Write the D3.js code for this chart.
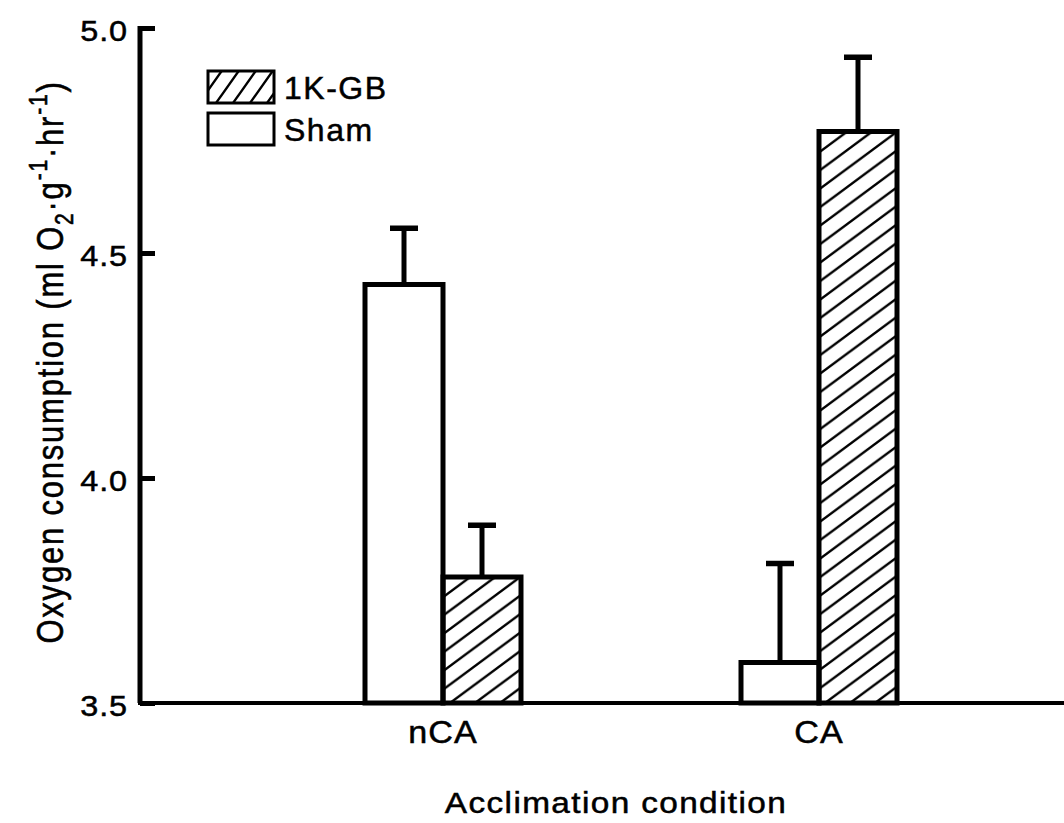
<!DOCTYPE html>
<html>
<head>
<meta charset="utf-8">
<script src="https://cdn.jsdelivr.net/npm/d3@7"></script>
<style>
  html, body { margin: 0; padding: 0; background: #fff; }
  svg { display: block; }
  text { font-family: "Liberation Sans", Arial, Helvetica, sans-serif; fill: #000; stroke: #000; stroke-width: 0.5; }
</style>
</head>
<body>
<svg id="chart" width="1064" height="823"></svg>
<script>
// Acclimation groups and treatment series
const categories = ["nCA", "CA"];
const series = ["Sham", "1K-GB"];
// Mean oxygen consumption (ml O2 · g^-1 · hr^-1)
const shamMeans = [4.43, 3.59];
const gbMeans = [3.78, 4.77];
// Upper end of the error bars (mean + SE)
const shamUpper = [4.555, 3.81];
const gbUpper = [3.895, 4.935];
const yTicks = [3.5, 4.0, 4.5, 5.0];

const svg = d3.select("#chart");
const plot = { left: 140, right: 1064, top: 28, bottom: 703 };

const y = d3.scaleLinear().domain([3.5, 5.0]).range([plot.bottom, plot.top]);
const x = d3.scalePoint().domain(categories).range([443, 819]);
const xs = d3.scaleBand().domain(series).range([-78, 78]).padding(0);

// hatch patterns
const defs = svg.append("defs");
function hatch(id, w, h, sw) {
  const p = defs.append("pattern").attr("id", id)
    .attr("patternUnits", "userSpaceOnUse").attr("width", w).attr("height", h);
  p.append("path")
    .attr("d", `M0,${h} L${w},0 M${-w/4},${h/4} L${w/4},${-h/4} M${3*w/4},${5*h/4} L${5*w/4},${3*h/4}`)
    .attr("stroke", "#000").attr("stroke-width", sw).attr("fill", "none");
}
hatch("hatchBar", 25, 18.5, 2.4);
hatch("hatchLegend", 17, 24, 2.4);

// horizontally widened text, anchored at (px, py)
function wideText(parent, px, py, sx, anchor) {
  return parent.append("text")
    .attr("transform", `translate(${px},${py}) scale(${sx},1)`)
    .attr("text-anchor", anchor || "start");
}

const rows = [];
categories.forEach((c, i) => {
  rows.push({ cat: c, s: "Sham", v: shamMeans[i], hi: shamUpper[i] });
  rows.push({ cat: c, s: "1K-GB", v: gbMeans[i], hi: gbUpper[i] });
});

// error bars (drawn first so the bar outline sits on top)
const eb = svg.append("g");
rows.forEach(d => {
  const cx = x(d.cat) + xs(d.s) + xs.bandwidth() / 2;
  eb.append("line").attr("x1", cx).attr("x2", cx)
    .attr("y1", y(d.v)).attr("y2", y(d.hi))
    .attr("stroke", "#000").attr("stroke-width", 5);
  eb.append("line").attr("x1", cx - 14).attr("x2", cx + 14)
    .attr("y1", y(d.hi)).attr("y2", y(d.hi))
    .attr("stroke", "#000").attr("stroke-width", 5.5);
});

// bars
svg.append("g").selectAll("rect").data(rows).join("rect")
  .attr("x", d => x(d.cat) + xs(d.s))
  .attr("y", d => y(d.v))
  .attr("width", xs.bandwidth())
  .attr("height", d => y(3.5) - y(d.v))
  .attr("fill", d => d.s === "Sham" ? "#fff" : "url(#hatchBar)")
  .attr("stroke", "#000").attr("stroke-width", 5);

// y axis
const yAxis = d3.axisRight(y).tickValues(yTicks).tickSize(15).tickFormat("");
const gy = svg.append("g").attr("transform", `translate(${plot.left},0)`).call(yAxis);
gy.select(".domain").attr("d", `M0,${plot.top - 2}V${plot.bottom}`).attr("stroke-width", 5);
gy.selectAll(".tick line").attr("stroke-width", 5);
const gyl = svg.append("g");
yTicks.forEach(t => {
  wideText(gyl, plot.left - 12, y(t) + 13, 1.08, "end")
    .attr("font-size", 30).attr("letter-spacing", 0.8).text(t.toFixed(1));
});

// x axis
const xAxis = d3.axisBottom(x).tickSize(0).tickFormat("");
const gx = svg.append("g").attr("transform", `translate(0,${plot.bottom})`).call(xAxis);
gx.select(".domain").attr("d", `M${plot.left - 2},0H${plot.right}`).attr("stroke-width", 4);
const gxl = svg.append("g");
categories.forEach(c => {
  wideText(gxl, x(c), plot.bottom + 40, 1.1, "middle")
    .attr("font-size", 31).attr("letter-spacing", 1).text(c);
});

// axis titles
wideText(svg, 616, 813, 1.15, "middle")
  .attr("font-size", 29).attr("letter-spacing", 1.2).text("Acclimation condition");

const yt = svg.append("text")
  .attr("transform", `translate(63,362) scale(1.22,1) rotate(-90)`)
  .attr("text-anchor", "middle").attr("font-size", 31).attr("letter-spacing", 1.8);
yt.append("tspan").text("Oxygen consumption (ml O");
yt.append("tspan").attr("font-size", 21).attr("dy", 8).text("2");
yt.append("tspan").attr("dy", -8).text("·g");
yt.append("tspan").attr("font-size", 21).attr("dy", -13).text("-1");
yt.append("tspan").attr("dy", 13).text("·hr");
yt.append("tspan").attr("font-size", 21).attr("dy", -13).text("-1");
yt.append("tspan").attr("dy", 13).text(")");

// legend
const leg = svg.append("g");
const legendItems = [
  { label: "1K-GB", fill: "url(#hatchLegend)", y: 71 },
  { label: "Sham", fill: "#fff", y: 113 }
];
legendItems.forEach(d => {
  leg.append("rect").attr("x", 208).attr("y", d.y).attr("width", 66).attr("height", 32)
    .attr("fill", d.fill).attr("stroke", "#000").attr("stroke-width", 3);
  leg.append("text").attr("x", 284).attr("y", d.y + 28)
    .attr("font-size", 32).attr("letter-spacing", 1.5).text(d.label);
});
</script>
</body>
</html>
